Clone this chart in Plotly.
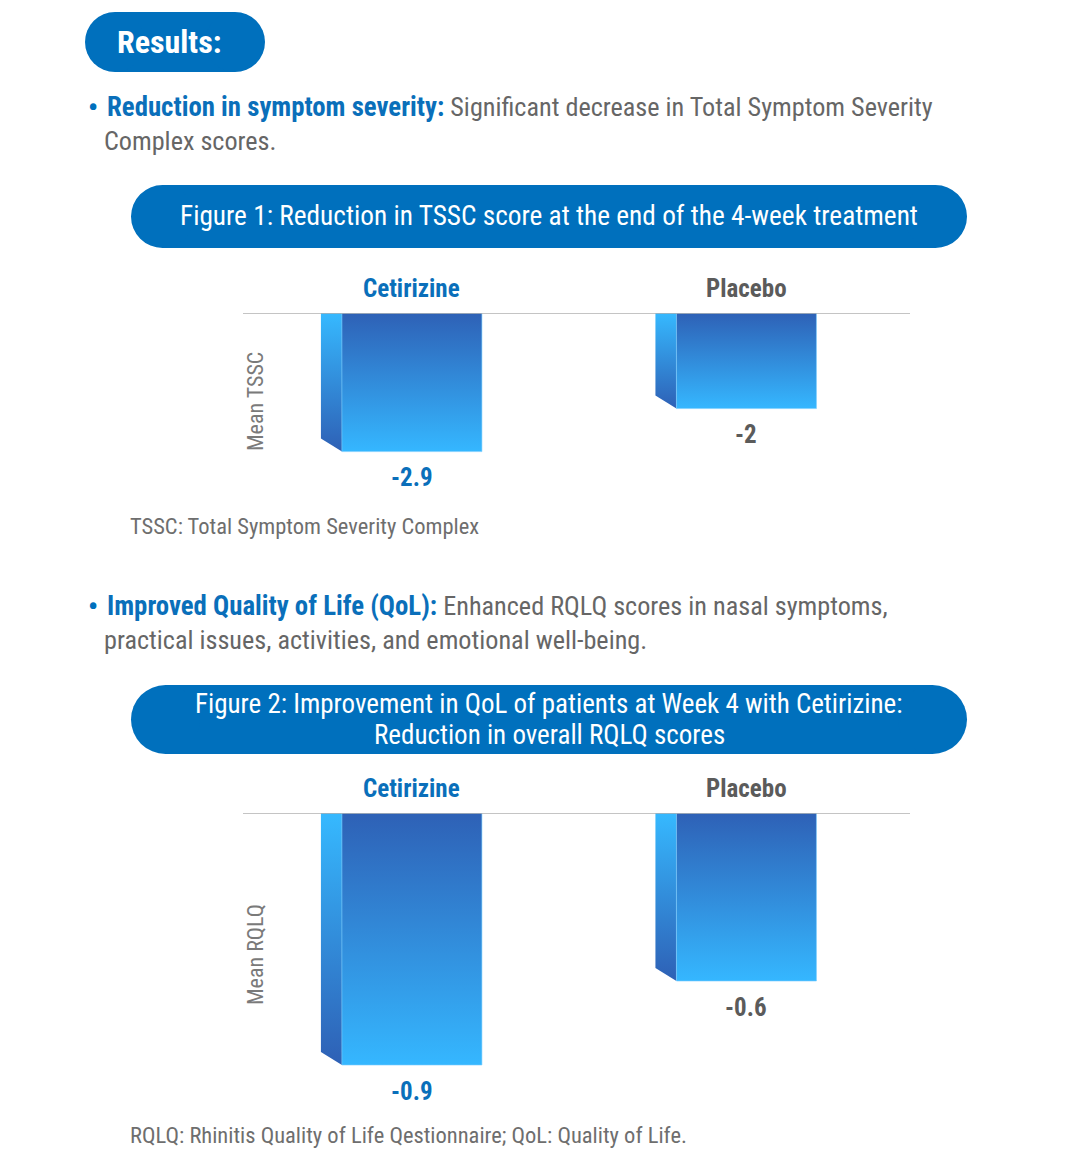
import plotly.graph_objects as go

# ---------------- data ----------------
categories = ["Cetirizine", "Placebo"]
tssc_values = [-2.9, -2.0]
rqlq_values = [-0.9, -0.6]
category_colors = ["#0a6fba", "#5b5b5b"]

heading = "Results:"
bullet1_bold = "Reduction in symptom severity:"
bullet1_text = ["Significant decrease in Total Symptom Severity", "Complex scores."]
bullet2_bold = "Improved Quality of Life (QoL):"
bullet2_text = ["Enhanced RQLQ scores in nasal symptoms,", "practical issues, activities, and emotional well-being."]
fig1_title = ["Figure 1: Reduction in TSSC score at the end of the 4-week treatment"]
fig2_title = ["Figure 2: Improvement in QoL of patients at Week 4 with Cetirizine:", "Reduction in overall RQLQ scores"]
y1_title = "Mean TSSC"
y2_title = "Mean RQLQ"
foot1 = "TSSC: Total Symptom Severity Complex"
foot2 = "RQLQ: Rhinitis Quality of Life Qestionnaire; QoL: Quality of Life."

# ---------------- layout helpers ----------------
W, H = 1080, 1168
FONT = "Roboto Condensed"
BLUE = "#0070bd"
TXT_BLUE = "#0a6fba"
GRAY = "#666666"


def X(px):
    return px / W


def Y(py):
    return 1 - py / H


def note(xp, yp, text, size, color, xanchor="center", yanchor="middle", **kw):
    fig.add_annotation(x=X(xp), y=Y(yp), xref="paper", yref="paper", xanchor=xanchor, yanchor=yanchor,
                       text=text, showarrow=False, font=dict(family=FONT, size=size, color=color), **kw)


fig = go.Figure()

# axes: chart 1 and chart 2
x_dom = [X(243), X(910)]
x_range = [-0.505, 1.489]
y1_top, y1_scale, y1_min = 313, 47.8, -4.0
y2_top, y2_scale, y2_min = 813, 280.0, -1.0
fig.update_layout(
    xaxis=dict(domain=x_dom, range=x_range, visible=False, anchor="y"),
    yaxis=dict(domain=[Y(y1_top - y1_min * y1_scale), Y(y1_top)], range=[y1_min, 0], visible=False, anchor="x"),
    xaxis2=dict(domain=x_dom, range=x_range, visible=False, anchor="y2"),
    yaxis2=dict(domain=[Y(y2_top - y2_min * y2_scale), Y(y2_top)], range=[y2_min, 0], visible=False, anchor="x2"),
)

x_per_px = (x_range[1] - x_range[0]) / (x_dom[1] - x_dom[0]) / W
half_w = 70 * x_per_px
side_w = 21 * x_per_px
FRONT_SCALE = [[0, "#35b7ff"], [1, "#2e61b6"]]
SIDE_SCALE = [[0, "#2e60b5"], [1, "#36b9ff"]]


def add_bars(values, xa, ya, yscale):
    slant = 13 / yscale
    for i, v in enumerate(values):
        xc = i
        # side face
        fig.add_trace(go.Scatter(
            x=[xc - half_w - side_w, xc - half_w, xc - half_w, xc - half_w - side_w, xc - half_w - side_w],
            y=[0, 0, v, v + slant, 0],
            fill="toself", mode="lines", line=dict(width=0),
            fillgradient=dict(type="vertical", colorscale=SIDE_SCALE),
            xaxis=xa, yaxis=ya, hoverinfo="skip", showlegend=False))
        # front face
        fig.add_trace(go.Scatter(
            x=[xc - half_w, xc + half_w, xc + half_w, xc - half_w, xc - half_w],
            y=[0, 0, v, v, 0],
            fill="toself", mode="lines", line=dict(width=1, color="rgba(120,205,255,0.6)"),
            fillgradient=dict(type="vertical", colorscale=FRONT_SCALE),
            xaxis=xa, yaxis=ya, hoverinfo="skip", showlegend=False,
            name=categories[i]))
        fig.add_annotation(x=xc, y=v, xref=xa, yref=ya, xanchor="center", yanchor="middle", yshift=-26,
                           text=f"<b>{v:g}</b>", showarrow=False,
                           font=dict(family=FONT, size=25, color=category_colors[i]))
    # baseline
    fig.add_shape(type="line", xref=f"{xa} domain", yref=ya, x0=0, x1=1, y0=0, y1=0,
                  line=dict(color="#b0b0b0", width=1.5), layer="above")


add_bars(tssc_values, "x", "y", y1_scale)
add_bars(rqlq_values, "x2", "y2", y2_scale)

# category labels
for top, xa in [(289, "x"), (788, "x2")]:
    for i, c in enumerate(categories):
        fig.add_annotation(x=i, y=Y(top), xref=xa, yref="paper", xanchor="center", yanchor="middle",
                           text=f"<b>{c}</b>", showarrow=False,
                           font=dict(family=FONT, size=25, color=category_colors[i]))

# y titles
note(255, 402, y1_title, 22, "#7a7a7a", textangle=-90)
note(255, 955, y2_title, 22, "#7a7a7a", textangle=-90)


# pills
def pill(x0, x1, y0, y1, color):
    r = (y1 - y0) / 2
    fig.add_shape(type="rect", xref="paper", yref="paper", x0=X(x0 + r), x1=X(x1 - r), y0=Y(y1), y1=Y(y0),
                  fillcolor=color, line_width=0, layer="below")
    fig.add_shape(type="circle", xref="paper", yref="paper", x0=X(x0), x1=X(x0 + 2 * r), y0=Y(y1), y1=Y(y0),
                  fillcolor=color, line_width=0, layer="below")
    fig.add_shape(type="circle", xref="paper", yref="paper", x0=X(x1 - 2 * r), x1=X(x1), y0=Y(y1), y1=Y(y0),
                  fillcolor=color, line_width=0, layer="below")


pill(85, 265, 12, 72, BLUE)
pill(131, 967, 185, 248, BLUE)
pill(131, 967, 685, 754, BLUE)

note(169, 42, f"<b>{heading}</b>", 32, "white")
note(549, 216, fig1_title[0], 27.3, "white")
note(549, 704, fig2_title[0], 27, "white")
note(549, 735, fig2_title[1], 27, "white")


# bullets
def bullet(y_first, bold, lines):
    note(93, y_first, "<b>•</b>", 28, BLUE)
    note(105, y_first,
         f"<b><span style='color:{TXT_BLUE};font-size:26.8px'>{bold}</span></b> {lines[0]}", 26.2, GRAY,
         xanchor="left")
    note(102, y_first + 34, lines[1], 26.2, GRAY, xanchor="left")


bullet(107, bullet1_bold, bullet1_text)
bullet(606, bullet2_bold, bullet2_text)

# footnotes
note(128, 526, foot1, 22.5, "#6e6e6e", xanchor="left")
note(128, 1135, foot2, 22.5, "#6e6e6e", xanchor="left")

fig.update_layout(width=W, height=H, margin=dict(l=0, r=0, t=0, b=0),
                  paper_bgcolor="white", plot_bgcolor="white", showlegend=False)

fig.write_html("out.html", config={"displayModeBar": False},
               post_script="document.body.style.margin='0px';")
